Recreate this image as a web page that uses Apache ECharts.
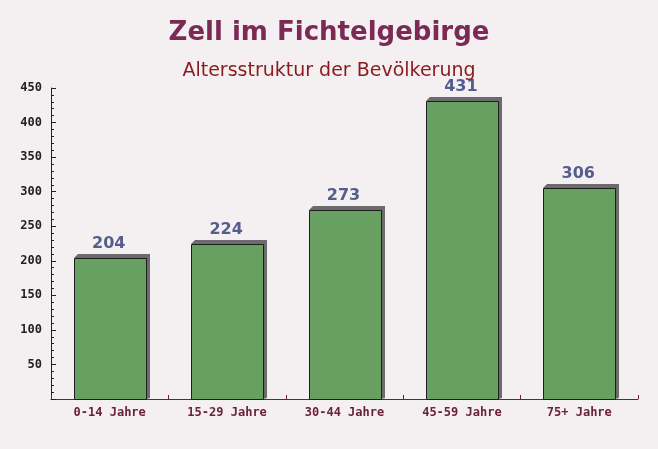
<!DOCTYPE html>
<html>
<head>
<meta charset="utf-8">
<script src="https://cdn.jsdelivr.net/npm/echarts@6/dist/echarts.min.js"></script>
<style>
html,body{margin:0;padding:0;background:#f4f0f1;}
#chart{width:658px;height:449px;}
</style>
</head>
<body>
<div id="chart"></div>
<script>
const categories = ["0-14 Jahre", "15-29 Jahre", "30-44 Jahre", "45-59 Jahre", "75+ Jahre"];
const values = [204, 224, 273, 431, 306];
const titleText = "Zell im Fichtelgebirge";
const subtitleText = "Altersstruktur der Bevölkerung";

const chart = echarts.init(document.getElementById('chart'));

function renderBar(params, api) {
  const idx = api.value(0);
  const val = api.value(1);
  const top = api.coord([idx, val]);
  const base = api.coord([idx, 0]);
  const band = api.size([1, 0])[0];
  const w = Math.round(band * 0.615);
  const x0 = Math.round(top[0] - w / 2);
  const x1 = x0 + w;
  const y0 = Math.round(top[1]);
  const y1 = Math.round(base[1]);
  const d = 4;
  return {
    type: 'group',
    children: [
      {type: 'polygon', shape: {points: [[x0, y0], [x0 + d, y0 - d], [x1 + d, y0 - d], [x1 + d, y1 - 1], [x1, y1], [x1, y0]]},
       style: {fill: '#6b6b6b'}},
      {type: 'rect', shape: {x: x0 + 0.5, y: y0 + 0.5, width: w, height: y1 - y0},
       style: {fill: '#68a062', stroke: '#1e1e1e', lineWidth: 1}},
      {type: 'text', x: top[0] - 1, y: y0 - d - 2,
       style: {text: String(val), fontFamily: 'DejaVu Sans', fontWeight: 'bold', fontSize: 16,
               fill: '#545d8c', align: 'center', verticalAlign: 'bottom'}}
    ]
  };
}

chart.setOption({
  backgroundColor: '#f4f0f1',
  animation: false,
  title: [
    {text: titleText, left: 'center', top: 15,
     textStyle: {fontFamily: 'DejaVu Sans', fontWeight: 'bold', fontSize: 26, color: '#7b2a55'}},
    {text: subtitleText, left: 'center', top: 57,
     textStyle: {fontFamily: 'DejaVu Sans', fontWeight: 'normal', fontSize: 19, color: '#8b1a1f'}}
  ],
  grid: {left: 51, right: 20, top: 88, bottom: 50},
  xAxis: {
    type: 'category', data: categories,
    axisLine: {lineStyle: {color: '#6b2040', width: 1}},
    axisTick: {show: true, inside: true, length: 4, lineStyle: {color: '#6b2040'}},
    axisLabel: {fontFamily: 'DejaVu Sans Mono', fontWeight: 'bold', fontSize: 12, color: '#6b2040', margin: 8}
  },
  yAxis: {
    type: 'value', min: 0, max: 450, interval: 50,
    splitLine: {show: false},
    axisLine: {show: true, lineStyle: {color: '#222', width: 1}},
    axisTick: {show: true, inside: true, length: 5, lineStyle: {color: '#222'}},
    minorTick: {show: true, splitNumber: 5, length: 3, lineStyle: {color: '#222'}},
    axisLabel: {showMinLabel: false, fontFamily: 'DejaVu Sans Mono', fontWeight: 'bold', fontSize: 12, color: '#222', margin: 9}
  },
  series: [{
    type: 'custom',
    renderItem: renderBar,
    encode: {x: 0, y: 1},
    data: values.map((v, i) => [i, v])
  }]
});
</script>
</body>
</html>
